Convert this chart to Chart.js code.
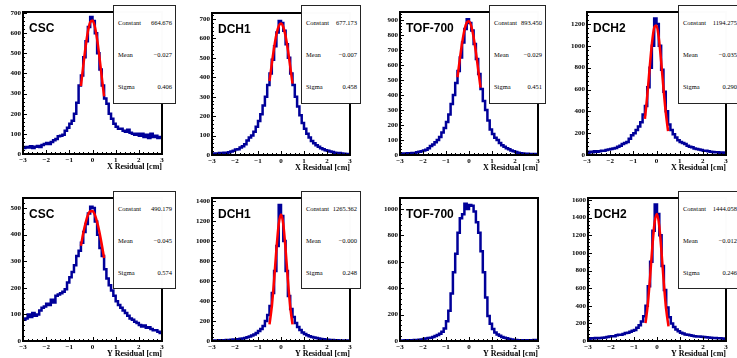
<!DOCTYPE html>
<html lang="en">
<head>
<meta charset="UTF-8">
<title>Track residuals</title>
<style>
  html, body { margin: 0; padding: 0; background: #fff; }
  body { position: relative; width: 737px; height: 358px; overflow: hidden; }
  canvas { position: absolute; }
  .tag { position: absolute; font: bold 12px "Liberation Sans", Arial, sans-serif; line-height: 12px; color: #000; white-space: nowrap; }
  .stats { position: absolute; box-sizing: border-box; background: #fff; border: 1px solid #222;
           display: flex; flex-direction: column; font: 6.5px "Liberation Serif", "Times New Roman", serif; color: #000;
           -webkit-font-smoothing: antialiased; will-change: opacity; opacity: 0.99; }
  .stats div { flex: 1; display: flex; justify-content: space-between; align-items: center; padding: 0 3px 0 4px; white-space: nowrap; }
</style>
</head>
<body>
<script src="https://cdn.jsdelivr.net/npm/chart.js"></script>
<script>
// 60 bins of 0.1 cm from -3 to 3
const binLow = -3;
const binWidth = 0.1;

// histograms
const cscX = [30, 35, 32, 38, 30, 36, 40, 35, 45, 50,
              55, 50, 60, 68, 75, 88, 90, 95, 115, 130,
              150, 165, 200, 255, 340, 390, 480, 560, 630, 680,
              660, 600, 500, 420, 340, 275, 250, 200, 175, 150,
              135, 125, 125, 115, 110, 120, 105, 100, 95, 100,
              90, 100, 85, 95, 80, 100, 85, 90, 80, 85];
const dch1X = [5, 8, 6, 10, 8, 12, 10, 14, 18, 22,
               28, 30, 38, 45, 55, 75, 90, 100, 120, 145,
               175, 210, 255, 300, 360, 420, 490, 560, 630, 690,
               680, 640, 570, 500, 420, 360, 300, 250, 205, 165,
               135, 110, 90, 72, 60, 50, 42, 35, 30, 25,
               22, 18, 15, 12, 10, 10, 8, 6, 5, 4];
const tofX = [5, 10, 8, 12, 10, 14, 12, 18, 22, 25,
              30, 35, 45, 60, 70, 85, 100, 120, 150, 180,
              220, 270, 340, 400, 480, 560, 650, 750, 840, 905,
              880, 830, 740, 640, 540, 440, 360, 300, 230, 170,
              140, 115, 100, 80, 65, 55, 45, 38, 30, 25,
              20, 15, 12, 10, 8, 8, 6, 5, 6, 4];
const dch2X = [20, 30, 25, 35, 30, 35, 40, 38, 45, 50,
               55, 60, 65, 75, 85, 100, 110, 120, 150, 180,
               200, 230, 260, 300, 370, 450, 620, 800, 1000, 1250,
               1200, 1000, 780, 580, 400, 280, 230, 190, 160, 135,
               120, 110, 100, 85, 75, 70, 60, 55, 50, 45,
               40, 38, 35, 30, 28, 25, 25, 20, 22, 18];
const cscY = [80, 85, 100, 90, 105, 95, 100, 115, 125, 130,
              140, 135, 155, 145, 170, 175, 180, 185, 195, 220,
              240, 260, 285, 320, 340, 370, 410, 440, 480, 505,
              500, 450, 400, 350, 320, 270, 235, 210, 190, 170,
              150, 135, 125, 115, 105, 95, 85, 80, 72, 68,
              60, 55, 58, 50, 52, 45, 40, 40, 35, 30];
const dch1Y = [5, 5, 6, 8, 6, 8, 10, 10, 12, 14,
               15, 18, 22, 25, 30, 38, 45, 55, 65, 80,
               100, 120, 150, 200, 260, 350, 480, 700, 950, 1360,
               1250, 1000, 700, 450, 320, 240, 180, 140, 110, 85,
               70, 58, 48, 40, 35, 30, 25, 20, 18, 15,
               12, 10, 10, 8, 8, 6, 6, 5, 5, 4];
const tofY = [3, 4, 5, 4, 6, 6, 8, 8, 10, 12,
              15, 18, 22, 25, 30, 38, 45, 55, 70, 95,
              150, 230, 360, 520, 660, 820, 930, 960, 1040, 1000,
              1030, 1025, 980, 900, 820, 680, 520, 330, 190, 130,
              90, 65, 50, 40, 30, 25, 20, 15, 12, 10,
              8, 6, 6, 5, 5, 4, 5, 6, 8, 5];
const dch2Y = [25, 30, 28, 35, 32, 35, 38, 40, 45, 50,
               55, 55, 65, 70, 72, 80, 90, 95, 105, 115,
               125, 150, 180, 220, 280, 400, 620, 900, 1250, 1550,
               1440, 1200, 850, 580, 380, 270, 200, 160, 130, 110,
               95, 85, 75, 70, 65, 60, 55, 52, 50, 48,
               45, 42, 40, 38, 35, 35, 30, 30, 28, 25];

// gaussian fit curves, sampled by eye over the fit range
const fitX = [-0.5, -0.4, -0.3, -0.2, -0.1, 0, 0.1, 0.2, 0.3, 0.4, 0.5];
const cscXFit  = [337, 436, 530, 607, 654, 663, 633, 569, 481, 382, 286];
const dch1XFit = [380, 469, 552, 620, 663, 677, 659, 611, 541, 456, 367];
const tofXFit  = [518, 637, 746, 832, 882, 892, 858, 785, 685, 569, 449];
const dch2XFit = [330, 541, 787, 1016, 1165, 1186, 1071, 860, 613, 388, 218];
const cscYFit  = [358, 405, 444, 473, 488, 489, 475, 447, 409, 363, 312];
const dch1YFit = [166, 345, 609, 914, 1167, 1265, 1167, 914, 609, 345, 166];
const dch2YFit = [202, 416, 728, 1078, 1354, 1442, 1302, 996, 646, 355, 166];

// stats box contents: Constant, Mean, Sigma
const statNames = ['Constant', 'Mean', 'Sigma'];
const cscXStats  = ['664.676', '\u22120.027', '0.406'];
const dch1XStats = ['677.173', '\u22120.007', '0.458'];
const tofXStats  = ['893.450', '\u22120.029', '0.451'];
const dch2XStats = ['1194.275', '\u22120.035', '0.290'];
const cscYStats  = ['490.179', '\u22120.045', '0.574'];
const dch1YStats = ['1265.362', '\u22120.000', '0.248'];
const dch2YStats = ['1444.058', '\u22120.012', '0.246'];

const panels = [
  { name: 'CSC', axis: 'X', hist: cscX, fit: cscXFit, stats: cscXStats, yMax: 705, yStep: 100,
    frame: [23, 12, 162, 154], box: [113, 5, 63, 99] },
  { name: 'DCH1', axis: 'X', hist: dch1X, fit: dch1XFit, stats: dch1XStats, yMax: 731, yStep: 100,
    frame: [212, 13, 350, 155], box: [301, 5, 60, 99] },
  { name: 'TOF-700', axis: 'X', hist: tofX, fit: tofXFit, stats: tofXStats, yMax: 953, yStep: 100,
    frame: [400, 12, 538, 155], box: [489, 5, 57, 99] },
  { name: 'DCH2', axis: 'X', hist: dch2X, fit: dch2XFit, stats: dch2XStats, yMax: 1310, yStep: 200,
    frame: [587, 12, 726, 155], box: [678, 5, 63, 99] },
  { name: 'CSC', axis: 'Y', hist: cscY, fit: cscYFit, stats: cscYStats, yMax: 538, yStep: 100,
    frame: [23, 198, 162, 341], box: [113, 191, 63, 98] },
  { name: 'DCH1', axis: 'Y', hist: dch1Y, fit: dch1YFit, stats: dch1YStats, yMax: 1430, yStep: 200,
    frame: [212, 198, 350, 341], box: [301, 191, 60, 98] },
  { name: 'TOF-700', axis: 'Y', hist: tofY, fit: null, stats: null, yMax: 1083, yStep: 200,
    frame: [400, 198, 538, 341], box: null },
  { name: 'DCH2', axis: 'Y', hist: dch2Y, fit: dch2YFit, stats: dch2YStats, yMax: 1623, yStep: 200,
    frame: [588, 198, 726, 341], box: [678, 191, 63, 98] }
];

const tickFont = { family: '"Liberation Serif", "Times New Roman", serif', weight: 'bold', size: 7 };
const minus = v => String(v).replace('-', '\u2212');

// ROOT-like frame with ticks pointing into the pad
const rootFrame = {
  id: 'rootFrame',
  afterDraw(chart) {
    const { ctx, chartArea: a, scales: { x, y } } = chart;
    ctx.save();
    ctx.strokeStyle = '#000';
    ctx.lineWidth = 1;
    ctx.beginPath();
    for (let v = -3; v <= 3.001; v += 0.2) {
      const px = Math.round(x.getPixelForValue(v)) + 0.5;
      const major = Math.abs(v - Math.round(v)) < 0.01;
      ctx.moveTo(px, a.bottom);
      ctx.lineTo(px, a.bottom - (major ? 4 : 2));
    }
    const step = y.options.ticks.stepSize;
    for (let v = 0; v <= y.max; v += step / 5) {
      const py = Math.round(y.getPixelForValue(v)) + 0.5;
      const major = Math.abs(v / step - Math.round(v / step)) < 0.01;
      ctx.moveTo(a.left, py);
      ctx.lineTo(a.left + (major ? 4 : 2), py);
    }
    ctx.stroke();
    ctx.lineWidth = 2;
    ctx.strokeRect(a.left, a.top, a.right - a.left, a.bottom - a.top);
    ctx.restore();
  }
};

function makePanel(p) {
  const [l, t, r, b] = p.frame;
  const padL = 24, padT = 8, padR = 16, padB = 22;
  const cv = document.createElement('canvas');
  cv.width = r - l + padL + padR;
  cv.height = b - t + padT + padB;
  cv.style.left = (l - padL) + 'px';
  cv.style.top = (t - padT) + 'px';
  cv.style.width = cv.width + 'px';
  cv.style.height = cv.height + 'px';
  document.body.appendChild(cv);

  // histogram outline: each bin as a flat segment
  const outline = [];
  p.hist.forEach((v, i) => {
    const lo = binLow + i * binWidth;
    outline.push({ x: lo, y: v }, { x: lo + binWidth, y: v });
  });

  const datasets = [];
  if (p.fit) {
    datasets.push({
      data: fitX.map((x, i) => ({ x, y: p.fit[i] })),
      borderColor: '#ff0000', borderWidth: 2.5, pointRadius: 0,
      tension: 0.4, cubicInterpolationMode: 'monotone'
    });
  }
  datasets.push({
    data: outline, borderColor: '#000099', borderWidth: 2.5, pointRadius: 0, tension: 0
  });

  new Chart(cv, {
    type: 'line',
    data: { datasets },
    options: {
      responsive: false,
      animation: false,
      layout: { padding: { top: padT, right: padR, left: 0, bottom: 0 } },
      plugins: { legend: { display: false }, tooltip: { enabled: false } },
      scales: {
        x: {
          type: 'linear', min: -3, max: 3,
          grid: { display: false, drawTicks: false },
          border: { display: false },
          ticks: { stepSize: 1, padding: 2, color: '#000', font: tickFont, maxRotation: 0,
                   autoSkip: false, callback: v => minus(v) },
          afterBuildTicks: s => {
            s.ticks = [];
            for (let v = -3; v <= 3; v++) s.ticks.push({ value: v });
          },
          title: { display: true, text: p.axis + ' Residual [cm]', align: 'end', color: '#000',
                   font: { family: tickFont.family, weight: 'bold', size: 8 }, padding: { top: 0, bottom: 4 } },
          afterFit: s => { s.height = padB; }
        },
        y: {
          type: 'linear', min: 0, max: p.yMax,
          grid: { display: false, drawTicks: false },
          border: { display: false },
          ticks: { stepSize: p.yStep, padding: 2, color: '#000', font: tickFont,
                   autoSkip: false, callback: v => minus(v) },
          afterBuildTicks: s => {
            s.ticks = [];
            for (let v = 0; v <= p.yMax; v += p.yStep) s.ticks.push({ value: v });
          },
          afterFit: s => { s.width = padL; }
        }
      }
    },
    plugins: [rootFrame]
  });

  const tag = document.createElement('div');
  tag.className = 'tag';
  tag.textContent = p.name;
  tag.style.left = (l + 6) + 'px';
  tag.style.top = (t + 10) + 'px';
  document.body.appendChild(tag);

  if (p.box) {
    const box = document.createElement('div');
    box.className = 'stats';
    box.style.left = p.box[0] + 'px';
    box.style.top = p.box[1] + 'px';
    box.style.width = p.box[2] + 'px';
    box.style.height = p.box[3] + 'px';
    statNames.forEach((n, i) => {
      const row = document.createElement('div');
      const a = document.createElement('span');
      const v = document.createElement('span');
      a.textContent = n;
      v.textContent = p.stats[i];
      row.appendChild(a);
      row.appendChild(v);
      box.appendChild(row);
    });
    document.body.appendChild(box);
  }
}

panels.forEach(makePanel);
</script>
</body>
</html>
